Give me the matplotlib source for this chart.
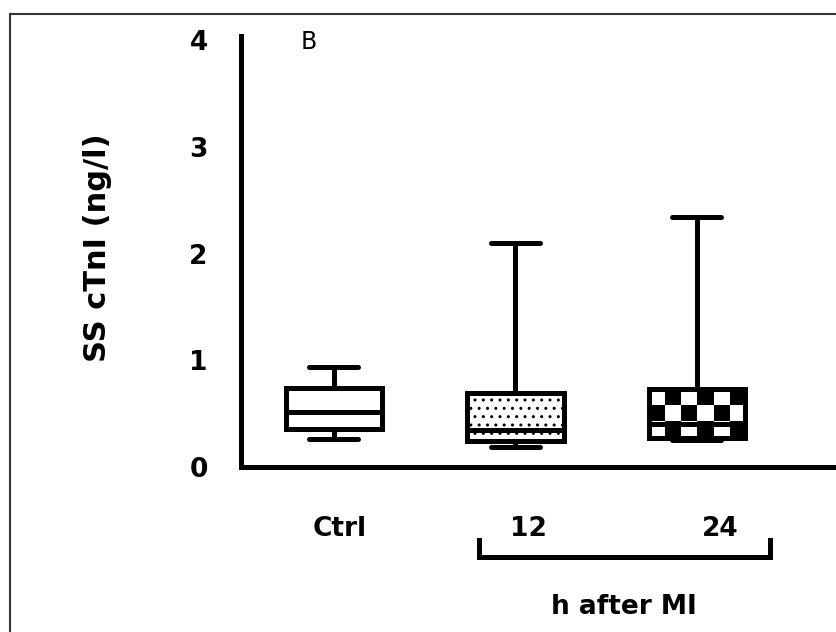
import numpy as np
import matplotlib.pyplot as plt
from matplotlib.patches import Rectangle

# 数据
groups = ['Ctrl', '12', '24']
whislo = [0.26, 0.19, 0.25]
q1 = [0.36, 0.24, 0.27]
med = [0.52, 0.35, 0.40]
q3 = [0.74, 0.69, 0.73]
whishi = [0.94, 2.10, 2.34]
yticks = [0, 1, 2, 3, 4]

fig = plt.figure(figsize=(8.36, 6.32), dpi=100)
ax = fig.add_axes([241/836, 165/632, 595/836, 431/632])

stats = [dict(label=g, whislo=lo, q1=a, med=m, q3=b, whishi=hi)
         for g, lo, a, m, b, hi in zip(groups, whislo, q1, med, q3, whishi)]
pos = [1, 2, 3]
lw = 3.6
bp = ax.bxp(stats, positions=pos, widths=0.53, showfliers=False, patch_artist=True,
            boxprops=dict(facecolor='white', edgecolor='black', linewidth=lw),
            medianprops=dict(color='black', linewidth=lw),
            whiskerprops=dict(color='black', linewidth=lw),
            capprops=dict(color='black', linewidth=lw, solid_capstyle='round'),
            capwidths=0.27)

# 12h: 点状填充
bp['boxes'][1].set_hatch('..')
# 24h: 棋盘格
x0, x1 = pos[2]-0.265, pos[2]+0.265
checker = np.indices((3, 6)).sum(axis=0) % 2
im = ax.imshow(checker, cmap='gray_r', extent=(x0, x1, q1[2], q3[2]), aspect='auto',
               interpolation='nearest', zorder=1.5)
bp['boxes'][2].set_facecolor('none')
for b in bp['boxes']:
    b.set_zorder(2)
for k in ['medians', 'whiskers', 'caps']:
    for l in bp[k]:
        l.set_zorder(3)

ax.set_xlim(0.488, 3.766)
ax.set_ylim(0, 4.04)
for s in ['top', 'right']:
    ax.spines[s].set_visible(False)
for s in ['left', 'bottom']:
    ax.spines[s].set_linewidth(3.6)
ax.set_yticks(yticks)
ax.set_yticklabels([str(t) for t in yticks], fontsize=19, fontweight='bold')
ax.tick_params(axis='y', length=0, pad=24)
ax.set_xticks([])

ax.text(1.03, -0.58, 'Ctrl', ha='center', va='center', fontsize=19, fontweight='bold')
ax.text(2.07, -0.58, '12', ha='center', va='center', fontsize=19, fontweight='bold')
ax.text(3.13, -0.58, '24', ha='center', va='center', fontsize=19, fontweight='bold')
ax.plot([1.80, 1.80, 3.40, 3.40], [-0.68, -0.84, -0.84, -0.68], color='black', lw=3.6,
        clip_on=False, solid_joinstyle='miter')
ax.text(2.6, -1.31, 'h after MI', ha='center', va='center', fontsize=19, fontweight='bold')
ax.text(0.86, 3.98, 'B', ha='center', va='center', fontsize=17)

fig.text(97/836, 1-248/632, 'SS cTnI (ng/l)', rotation=90, ha='center', va='center',
         fontsize=22, fontweight='bold')

fig.patches.append(Rectangle((10/836, -0.1), 1.2, 1-14/632+0.1, transform=fig.transFigure,
                             fill=False, edgecolor='#333333', linewidth=1.5))

fig.savefig('out.png', dpi=100)
